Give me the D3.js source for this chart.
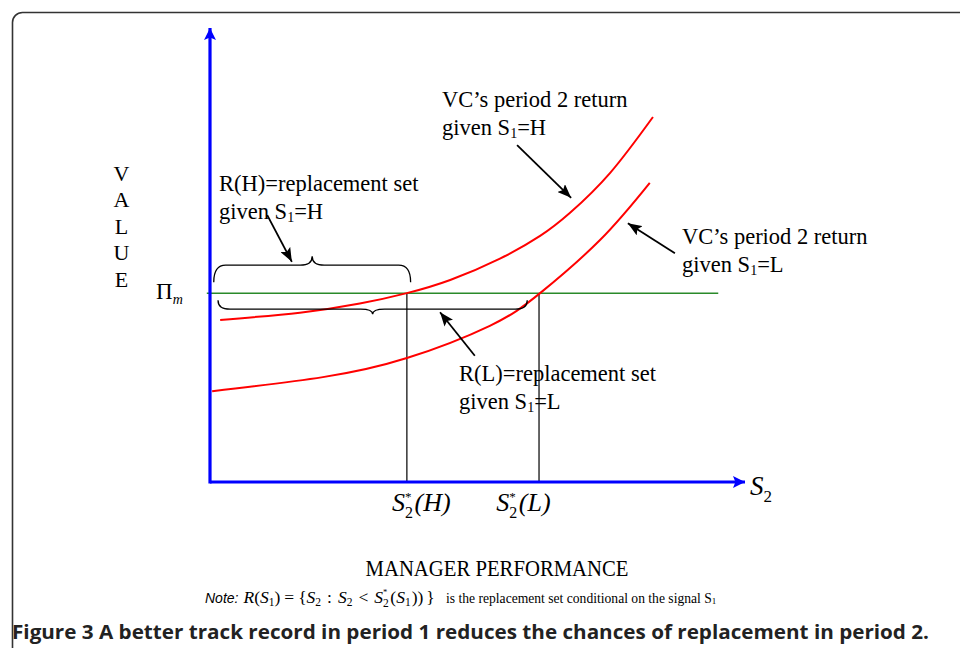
<!DOCTYPE html>
<html><head><meta charset="utf-8">
<script src="https://cdn.jsdelivr.net/npm/d3@7"></script>
<style>html,body{margin:0;padding:0;background:#fff;}svg{display:block;}text{white-space:pre;}</style>
</head><body>
<svg id="c" width="960" height="648"></svg>
<script>
// ---- data (abstract units: S2 on x, VALUE on y) ----
const s2H  = [0.19, 1.68, 2.80, 3.68, 4.49, 5.42, 6.17, 6.73, 7.48, 8.28];
const valH = [3.57, 3.73, 3.93, 4.16, 4.45, 4.92, 5.42, 5.93, 6.81, 8.04];
const s2L  = [0.04, 2.11, 3.68, 5.23, 6.17, 7.29, 8.22];
const valL = [2.00, 2.31, 2.73, 3.44, 4.16, 5.33, 6.59];
const piM = 4.16;
const piLineRange = [-0.06, 9.5];
const s2Star = [3.68, 6.15];
const s2StarNames = ["H", "L"];
const s2StarLabelX = [3.95, 5.86];
const braceH = [0.07, 3.75];
const braceL = [0.15, 5.93];
const valueLetters = ["V", "A", "L", "U", "E"];

const svg = d3.select("#c");
const x = d3.scaleLinear().domain([0, 10]).range([210, 745]);
const y = d3.scaleLinear().domain([0, 10]).range([482, 28]);
const SERIF = "'Liberation Serif','Times New Roman',serif";

// frame
svg.append("rect").attr("x", 12.5).attr("y", 12.5).attr("width", 1000).attr("height", 700)
  .attr("rx", 10).attr("fill", "none").attr("stroke", "#333").attr("stroke-width", 1.6);

const defs = svg.append("defs");
function marker(id, color, w, h) {
  defs.append("marker").attr("id", id).attr("markerUnits", "userSpaceOnUse")
    .attr("markerWidth", w).attr("markerHeight", h).attr("refX", w).attr("refY", h / 2)
    .attr("orient", "auto").attr("viewBox", `0 0 ${w} ${h}`)
    .append("path").attr("d", `M0,0L${w},${h/2}L0,${h}L${w*0.2},${h/2}Z`).attr("fill", color);
}
marker("ab", "#0000ff", 12, 12);
marker("ak", "#000", 14, 11);

// helper: one text element with tspans for sub/superscripts
function runs(g, x0, y0, items, anchor) {
  const t = g.append("text").attr("x", x0).attr("y", y0).attr("fill", "#000");
  if (anchor) t.attr("text-anchor", anchor);
  let cur = 0, pend = 0;
  items.forEach(it => {
    const ts = t.append("tspan").attr("font-family", it.f || SERIF).attr("font-size", it.s)
      .attr("font-style", it.i ? "italic" : "normal").text(it.t);
    const target = it.dy || 0;
    if (target - cur !== 0) ts.attr("dy", target - cur);
    cur = target;
    if (pend) ts.attr("dx", pend);
    const w = ts.node().getComputedTextLength();
    pend = it.stack ? -w : (it.adv || 0);
  });
  return t;
}

// horizontal Pi_m line (green)
svg.append("line").attr("x1", x(piLineRange[0])).attr("x2", x(piLineRange[1]))
  .attr("y1", y(piM)).attr("y2", y(piM)).attr("stroke", "#2a8a2a").attr("stroke-width", 1.5);

// vertical thresholds
svg.selectAll(".vl").data(s2Star).join("line").attr("class", "vl")
  .attr("x1", d => x(d)).attr("x2", d => x(d)).attr("y1", y(piM)).attr("y2", y(0))
  .attr("stroke", "#000").attr("stroke-width", 1.2);

// curves
const line = d3.line().x(d => x(d[0])).y(d => y(d[1])).curve(d3.curveNatural);
[[s2H, valH], [s2L, valL]].forEach(([xs, vs]) => {
  svg.append("path").attr("d", line(xs.map((v, i) => [v, vs[i]])))
    .attr("fill", "none").attr("stroke", "#ff0000").attr("stroke-width", 2);
});

// axes (blue arrows)
svg.append("line").attr("x1", x(0)).attr("x2", x(0)).attr("y1", y(0) + 1.5).attr("y2", y(10))
  .attr("stroke", "#0000ff").attr("stroke-width", 3.2).attr("marker-end", "url(#ab)");
svg.append("line").attr("x1", x(0)).attr("x2", x(10)).attr("y1", y(0)).attr("y2", y(0))
  .attr("stroke", "#0000ff").attr("stroke-width", 3.2).attr("marker-end", "url(#ab)");

// braces
function brace(x1, x2, yEnd, yMid, yTip) {
  const xm = (x1 + x2) / 2, r = 12;
  return `M${x1},${yEnd}Q${x1},${yMid} ${x1 + r},${yMid}L${xm - r},${yMid}Q${xm},${yMid} ${xm},${yTip}` +
         `Q${xm},${yMid} ${xm + r},${yMid}L${x2 - r},${yMid}Q${x2},${yMid} ${x2},${yEnd}`;
}
svg.append("path").attr("d", brace(x(braceH[0]), x(braceH[1]), y(piM) - 11, y(piM) - 28, y(piM) - 37))
  .attr("fill", "none").attr("stroke", "#000").attr("stroke-width", 1.3);
svg.append("path").attr("d", brace(x(braceL[0]), x(braceL[1]), y(piM) + 7, y(piM) + 16, y(piM) + 21))
  .attr("fill", "none").attr("stroke", "#000").attr("stroke-width", 1.3);

// annotation arrows [from, to] in data units
const arrows = [
  [[1.07, 5.88], [1.53, 4.85]],
  [[5.74, 7.42], [6.75, 6.26]],
  [[8.69, 5.04], [7.81, 5.70]],
  [[4.95, 2.78], [4.30, 3.74]]
];
arrows.forEach(([a, b]) => {
  svg.append("line").attr("x1", x(a[0])).attr("y1", y(a[1])).attr("x2", x(b[0])).attr("y2", y(b[1]))
    .attr("stroke", "#000").attr("stroke-width", 1.8).attr("marker-end", "url(#ak)");
});

// annotation labels
const FS = 22.5;
function twoLine(px, py, first, sig) {
  svg.append("text").attr("x", px).attr("y", py).attr("font-family", SERIF).attr("font-size", FS)
    .attr("fill", "#000").text(first);
  runs(svg, px, py + 27.5, [
    { t: "given S", s: FS }, { t: "1", s: 14, dy: 3 }, { t: "=" + sig, s: FS }
  ]);
}
twoLine(219, 191, "R(H)=replacement set", "H");
twoLine(442, 107, "VC\u2019s period 2 return", "H");
twoLine(682, 244, "VC\u2019s period 2 return", "L");
twoLine(459, 381, "R(L)=replacement set", "L");

// VALUE vertical letters
svg.selectAll(".vlet").data(valueLetters).join("text").attr("class", "vlet")
  .attr("x", 121.5).attr("y", (d, i) => 181 + i * 26.4).attr("text-anchor", "middle")
  .attr("font-family", SERIF).attr("font-size", 22).text(d => d);

// Pi_m label
runs(svg, 156, y(piM) + 6, [{ t: "\u03A0", s: 23 }, { t: "m", s: 14, i: true, dy: 5 }]);

// threshold tick labels
s2Star.forEach((d, i) => {
  runs(svg, x(s2StarLabelX[i]), 511, [
    { t: "S", s: 26, i: true },
    { t: "2", s: 16, dy: 7, stack: true },
    { t: "*", s: 13, dy: -10, adv: 3 },
    { t: "(" + s2StarNames[i] + ")", s: 26, i: true }
  ], "middle");
});

// S2 axis label
runs(svg, 750, 495, [{ t: "S", s: 27, i: true }, { t: "2", s: 17, dy: 7 }]);

// x-axis title
svg.append("text").attr("x", 497).attr("y", 576).attr("text-anchor", "middle")
  .attr("font-family", SERIF).attr("font-size", 23).attr("textLength", 263)
  .attr("lengthAdjust", "spacingAndGlyphs").text("MANAGER PERFORMANCE");

// note line
const M = 17.5, m = 11.5;
runs(svg, 205, 603, [
  { t: "Note:", s: 14, i: true, f: "'Liberation Sans',Arial,sans-serif", adv: 5 },
  { t: "R", s: M, i: true }, { t: "(", s: M }, { t: "S", s: M, i: true }, { t: "1", s: m, dy: 3 },
  { t: ")", s: M, adv: 4 }, { t: "=", s: M, adv: 4 }, { t: "{", s: M }, { t: "S", s: M, i: true },
  { t: "2", s: m, dy: 3, adv: 6 }, { t: ":", s: M, adv: 6 }, { t: "S", s: M, i: true },
  { t: "2", s: m, dy: 3, adv: 6 }, { t: "<", s: M, adv: 6 }, { t: "S", s: M, i: true },
  { t: "2", s: m, dy: 4, stack: true }, { t: "*", s: 8.5, dy: -8, adv: 3 }, { t: "(", s: M },
  { t: "S", s: M, i: true }, { t: "1", s: m, dy: 3, adv: 1 }, { t: "))", s: M, adv: 3 }, { t: "}", s: M }
]);
runs(svg, 446, 603, [
  { t: "is the replacement set conditional on the signal S", s: 13.6 }, { t: "1", s: 9, dy: 1 }
]);

// caption
svg.append("text").attr("x", 12).attr("y", 639).attr("font-family", "'Open Sans',sans-serif")
  .attr("font-weight", "bold").attr("font-size", 19).attr("textLength", 917)
  .attr("lengthAdjust", "spacingAndGlyphs").attr("fill", "#222")
  .text("Figure 3 A better track record in period 1 reduces the chances of replacement in period 2.");
</script>
</body></html>
